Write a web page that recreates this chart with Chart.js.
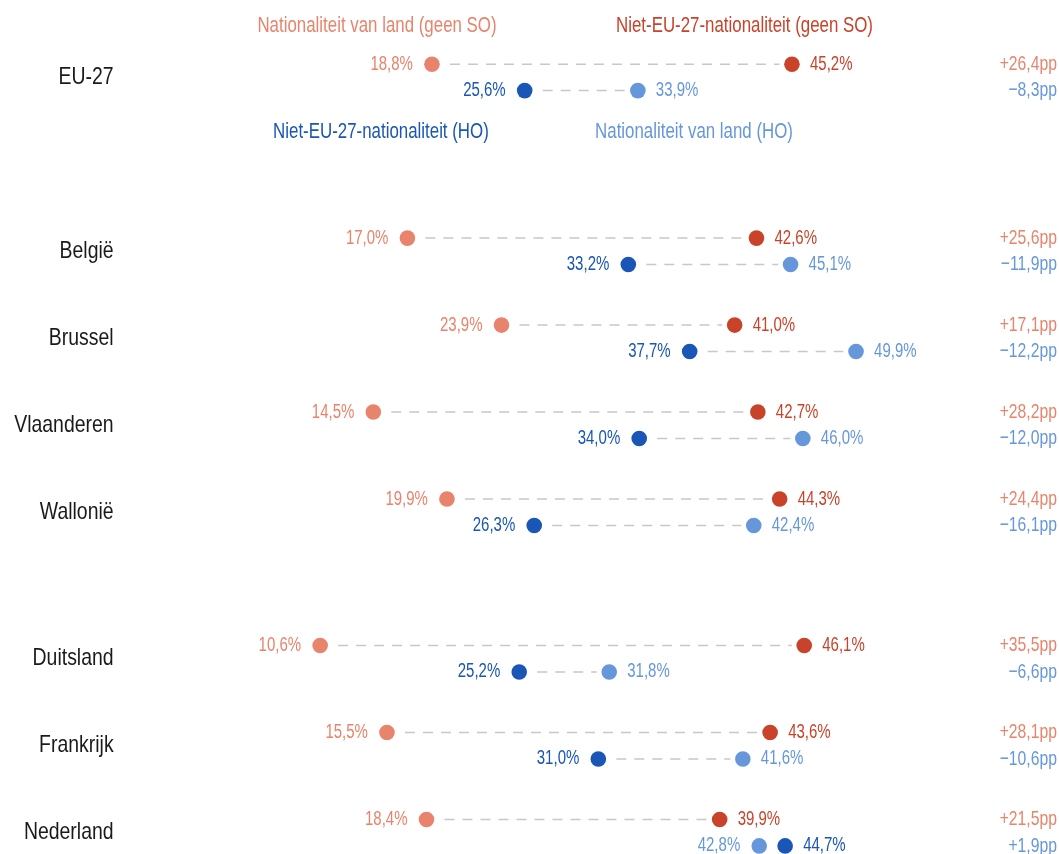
<!DOCTYPE html>
<html><head><meta charset="utf-8">
<script src="https://cdn.jsdelivr.net/npm/chart.js@4"></script>
<style>html,body{margin:0;padding:0;background:#fff}#wrap{width:1059px;height:854px;position:relative}</style>
</head><body><div id="wrap"><canvas id="c"></canvas></div>
<script>
// ---- data ----
const categories = ['EU-27','België','Brussel','Vlaanderen','Wallonië','Duitsland','Frankrijk','Nederland'];
const soNational = [18.8, 17.0, 23.9, 14.5, 19.9, 10.6, 15.5, 18.4];
const soNonEU    = [45.2, 42.6, 41.0, 42.7, 44.3, 46.1, 43.6, 39.9];
const hoNonEU    = [25.6, 33.2, 37.7, 34.0, 26.3, 25.2, 31.0, 44.7];
const hoNational = [33.9, 45.1, 49.9, 46.0, 42.4, 31.8, 41.6, 42.8];
const seriesNames = ['Nationaliteit van land (geen SO)','Niet-EU-27-nationaliteit (geen SO)','Niet-EU-27-nationaliteit (HO)','Nationaliteit van land (HO)'];
const sections = [1, 4, 3];

// ---- styling / layout ----
const COLORS = {soNat:'#E8846B', soEU:'#C8432A', hoEU:'#1A56B5', hoNat:'#6697DB'};
const FONT = "'Liberation Sans', Arial, sans-serif";
const SX = 0.75; // horizontal condensing of text
const sectionStep = [2, 1.685];
const SUB = 0.152;
const rowPos = [];
(function(){ let p = 0; sections.forEach((n, si) => { for (let k = 0; k < n; k++) { rowPos.push(p); p += 1; } p += (sectionStep[si] || 1) - 1; }); })();

const fmt = v => v.toFixed(1).replace('.', ',') + '%';
const fmtDiff = d => { d = Math.round(d * 10) / 10; return (d >= 0 ? '+' : '\u2212') + Math.abs(d).toFixed(1).replace('.', ',') + 'pp'; };

const series = [
  {key:'soNat', vals: soNational, sub: -SUB, color: COLORS.soNat},
  {key:'soEU',  vals: soNonEU,    sub: -SUB, color: COLORS.soEU},
  {key:'hoEU',  vals: hoNonEU,    sub:  SUB, color: COLORS.hoEU},
  {key:'hoNat', vals: hoNational, sub:  SUB, color: COLORS.hoNat}
];

const datasets = [];
categories.forEach((c, i) => {
  [[soNational, soNonEU, -SUB], [hoNonEU, hoNational, SUB]].forEach(([a, b, s]) => {
    datasets.push({type:'line', data:[{x:a[i], y:rowPos[i]+s},{x:b[i], y:rowPos[i]+s}],
      borderColor:'#C8C8C8', borderWidth:1.5, borderDash:[10,8], pointRadius:0, order:3, fill:false});
  });
});
const allPts = [];
series.forEach(s => s.vals.forEach((v, i) => allPts.push({x:v, y:rowPos[i]+s.sub})));
datasets.push({type:'scatter', data: allPts, pointRadius:12.5, backgroundColor:'#fff', borderWidth:0, pointBorderWidth:0, order:2});
series.forEach(s => {
  datasets.push({type:'scatter', label:s.key, data: s.vals.map((v, i) => ({x:v, y:rowPos[i]+s.sub})),
    pointRadius:7.8, pointHoverRadius:7.8, backgroundColor:s.color, borderWidth:0, pointBorderWidth:0, order:1});
});

function txt(ctx, s, x, y, align, sx){
  ctx.save(); ctx.translate(x, y); ctx.scale(sx || SX, 1); ctx.textAlign = align; ctx.fillText(s, 0, 0); ctx.restore();
}

const textPlugin = {
  id:'texts',
  afterDatasetsDraw(chart){
    const ctx = chart.ctx, xs = chart.scales.x, ys = chart.scales.y;
    ctx.save();
    ctx.textBaseline = 'middle';
    // category labels
    ctx.font = '24px ' + FONT; ctx.fillStyle = '#1a1a1a';
    categories.forEach((c, i) => txt(ctx, c, chart.chartArea.left - 62, ys.getPixelForValue(rowPos[i]), 'right', 0.81));
    // value labels
    ctx.font = '20px ' + FONT;
    categories.forEach((c, i) => {
      [[series[0], series[1]], [series[2], series[3]]].forEach(pair => {
        const sorted = pair.slice().sort((p, q) => p.vals[i] - q.vals[i]);
        const y = ys.getPixelForValue(rowPos[i] + pair[0].sub);
        const lo = sorted[0], hi = sorted[1];
        ctx.fillStyle = lo.color;
        txt(ctx, fmt(lo.vals[i]), xs.getPixelForValue(lo.vals[i]) - 19, y, 'right');
        ctx.fillStyle = hi.color;
        txt(ctx, fmt(hi.vals[i]), xs.getPixelForValue(hi.vals[i]) + 18, y, 'left');
      });
    });
    // differences
    ctx.font = '21px ' + FONT;
    categories.forEach((c, i) => {
      ctx.fillStyle = COLORS.soNat;
      txt(ctx, fmtDiff(soNonEU[i] - soNational[i]), chart.width - 2, ys.getPixelForValue(rowPos[i] - SUB), 'right');
      ctx.fillStyle = COLORS.hoNat;
      txt(ctx, fmtDiff(hoNonEU[i] - hoNational[i]), chart.width - 2, ys.getPixelForValue(rowPos[i] + SUB), 'right');
    });
    // legend labels
    ctx.font = '22.5px ' + FONT;
    const leg = [[0, 14.77, -0.59, COLORS.soNat], [1, 41.72, -0.59, COLORS.soEU], [2, 15.06, 0.62, COLORS.hoEU], [3, 38.02, 0.62, COLORS.hoNat]];
    leg.forEach(([k, x, y, col]) => { ctx.fillStyle = col; txt(ctx, seriesNames[k], xs.getPixelForValue(x), ys.getPixelForValue(rowPos[0] + y), 'center'); });
    ctx.restore();
  }
};

new Chart(document.getElementById('c'), {
  data: {datasets},
  options: {
    responsive:true, maintainAspectRatio:false, animation:false,
    layout:{autoPadding:false, padding:{left:175.6, right:10.7, top:0, bottom:0}},
    plugins:{legend:{display:false}, tooltip:{enabled:false}},
    events:[],
    scales:{
      x:{type:'linear', min:0, max:64, display:false},
      y:{type:'linear', min:-0.89, max:8.93, reverse:true, display:false}
    }
  },
  plugins:[textPlugin]
});
</script></body></html>
